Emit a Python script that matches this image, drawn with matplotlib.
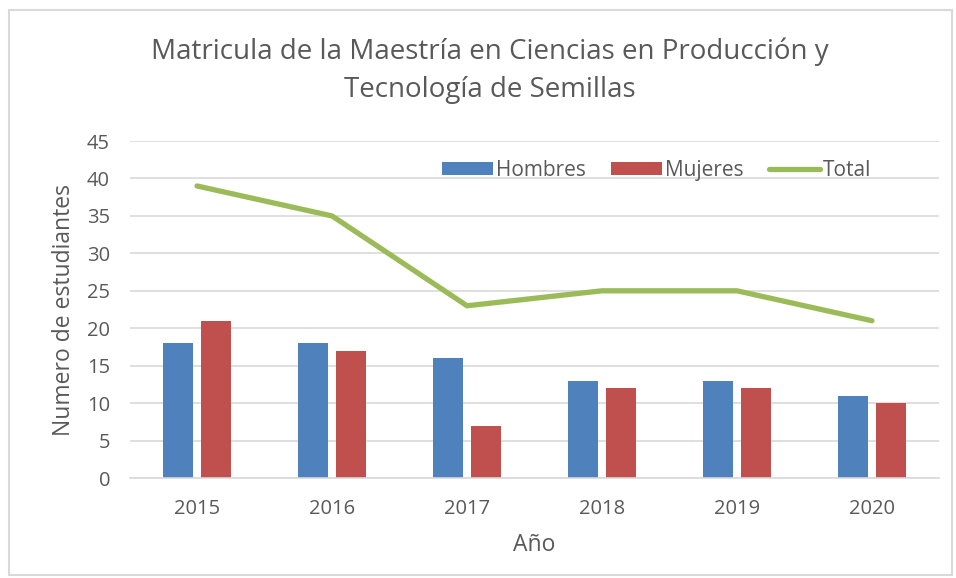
import matplotlib
matplotlib.use("Agg")
import matplotlib.pyplot as plt
import numpy as np
from matplotlib.patches import Rectangle

years = ["2015", "2016", "2017", "2018", "2019", "2020"]
hombres = [18, 18, 16, 13, 13, 11]
mujeres = [21, 17, 7, 12, 12, 10]
total = [39, 35, 23, 25, 25, 21]
yticks = [0, 5, 10, 15, 20, 25, 30, 35, 40, 45]

plt.rcParams['font.family'] = ['Open Sans', 'DejaVu Sans']
txt = '#595959'

fig = plt.figure(figsize=(9.56, 5.78), dpi=100)
ax = fig.add_axes([0.1355, 0.173, 0.8472, 0.583])

x = np.arange(len(years))
w = 0.222
off = 19 / 135
b1 = ax.bar(x - off, hombres, w, color='#4F81BD', label='Hombres', zorder=2)
b2 = ax.bar(x + off, mujeres, w, color='#C0504D', label='Mujeres', zorder=2)
l1, = ax.plot(x, total, color='#9BBB59', lw=3.8, solid_capstyle='round', label='Total', zorder=3)

ax.set_xlim(-0.5, len(years) - 0.5)
ax.set_ylim(0, 45)
ax.set_yticks(yticks)
ax.set_xticks(x)
ax.set_xticklabels(years)
ax.yaxis.grid(True, color='#D9D9D9', lw=1.2, zorder=0)
ax.set_axisbelow(True)
for s in ['left', 'right', 'top']:
    ax.spines[s].set_visible(False)
ax.spines['bottom'].set_color('#D9D9D9')
ax.spines['bottom'].set_linewidth(1.2)
ax.tick_params(axis='both', length=0, labelsize=14.5, colors=txt)
ax.tick_params(axis='x', pad=15)
ax.tick_params(axis='y', pad=14)
ax.set_xlabel('Año', fontsize=16.5, color=txt, labelpad=10)
ax.set_ylabel('Numero de estudiantes', fontsize=16.5, color=txt, labelpad=8)

leg = ax.legend([b1, b2, l1], ['Hombres', 'Mujeres', 'Total'],
                loc='center', bbox_to_anchor=(0.651, 0.914), ncol=3, frameon=False,
                fontsize=15, handlelength=2.45, handleheight=0.6, columnspacing=1.2,
                handletextpad=0.15, borderaxespad=0, borderpad=0)
for t in leg.get_texts():
    t.set_color(txt)

fig.text(0.512, 0.878, 'Matricula de la Maestría en Ciencias en Producción y\nTecnología de Semillas',
         ha='center', va='center', fontsize=20, color=txt, linespacing=1.5)

fig.patches.append(Rectangle((9/956, 3/578), 943/956, 565/578, transform=fig.transFigure,
                             fill=False, edgecolor='#D9D9D9', lw=1.5))

fig.savefig('out.png', dpi=100)
